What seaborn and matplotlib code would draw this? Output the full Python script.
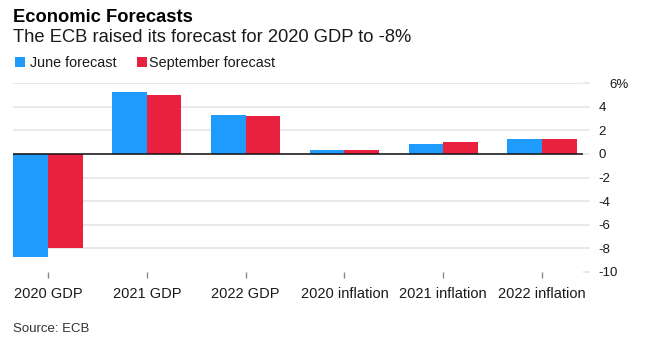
import matplotlib
matplotlib.use("Agg")
import matplotlib.pyplot as plt
import matplotlib.transforms as mtransforms
from matplotlib.patches import Rectangle
import seaborn as sns
import pandas as pd

# Forecast data (percent)
categories = ["2020 GDP", "2021 GDP", "2022 GDP",
              "2020 inflation", "2021 inflation", "2022 inflation"]
june_forecast = [-8.7, 5.2, 3.3, 0.3, 0.8, 1.3]
september_forecast = [-8.0, 5.0, 3.2, 0.3, 1.0, 1.3]
series_names = ["June forecast", "September forecast"]
y_ticks = [-10, -8, -6, -4, -2, 0, 2, 4, 6]
y_tick_labels = ["-10", "-8", "-6", "-4", "-2", "0", "2", "4", "6%"]

BLUE = "#1f9bfd"
RED = "#e9213f"
GRID = "#e3e3e3"
TEXT = "#1a1a1a"

df = pd.DataFrame({
    "category": categories * 2,
    "series": [series_names[0]] * len(categories) + [series_names[1]] * len(categories),
    "value": june_forecast + september_forecast,
})

sns.set_theme(style="white")
plt.rcParams["font.family"] = ["Liberation Sans", "DejaVu Sans"]

W, H = 646, 339
fig = plt.figure(figsize=(W / 100, H / 100), dpi=100)
ax = fig.add_axes([13 / W, (H - 272) / H, 570 / W, 189 / H])

sns.barplot(data=df, x="category", y="value", hue="series", order=categories,
            hue_order=series_names, palette=[BLUE, RED], width=0.7,
            linewidth=0, saturation=1, errorbar=None, legend=False, ax=ax, zorder=3)

ax.set_xlim(-0.355, 5.415)
ax.set_ylim(-10, 6)
ax.set_xlabel("")
ax.set_ylabel("")

for s in ax.spines.values():
    s.set_visible(False)

# Value axis on the right with light grid
ax.yaxis.tick_right()
ax.set_yticks(y_ticks)
ax.set_yticklabels(y_tick_labels)
ax.tick_params(axis="y", which="both", right=True, left=False, length=5,
               width=1.1, color=GRID, pad=6, labelsize=9.5, labelcolor=TEXT)
for lab in ax.get_yticklabels():
    lab.set_horizontalalignment("left")
ax.yaxis.grid(True, color=GRID, linewidth=1.1, zorder=0)
ax.xaxis.grid(False)
ax.yaxis.get_gridlines()[0].set_visible(False)
# shift the top "6%" label so the digit sits right
top_lab = ax.get_yticklabels()[-1]
top_lab.set_transform(top_lab.get_transform() +
                      mtransforms.ScaledTranslation(11 / 100, 0, fig.dpi_scale_trans))

ax.tick_params(axis="x", which="both", bottom=True, length=4, width=1,
               color="#8a8a8a", pad=7, labelsize=10.5, labelcolor=TEXT)

ax.axhline(0, color="#111111", linewidth=1.1, zorder=4)

# Header
fig.text(13 / W, 1 - 22 / H, "Economic Forecasts", fontsize=13.2,
         fontweight="bold", color="#000000", va="baseline")
fig.text(13 / W, 1 - 42 / H, "The ECB raised its forecast for 2020 GDP to -8%",
         fontsize=13.2, color=TEXT, va="baseline")

# Legend
legend_items = [(15, 30, BLUE, series_names[0]), (137, 149, RED, series_names[1])]
for sx, tx, col, name in legend_items:
    fig.patches.append(Rectangle((sx / W, 1 - 67 / H), 10 / W, 10 / H,
                                 transform=fig.transFigure, color=col,
                                 linewidth=0))
    fig.text(tx / W, 1 - 67 / H, name, fontsize=10.4, color=TEXT, va="baseline")

fig.text(13 / W, 1 - 332 / H, "Source: ECB", fontsize=9.5, color="#333333",
         va="baseline")

fig.savefig("out.png", dpi=100)
